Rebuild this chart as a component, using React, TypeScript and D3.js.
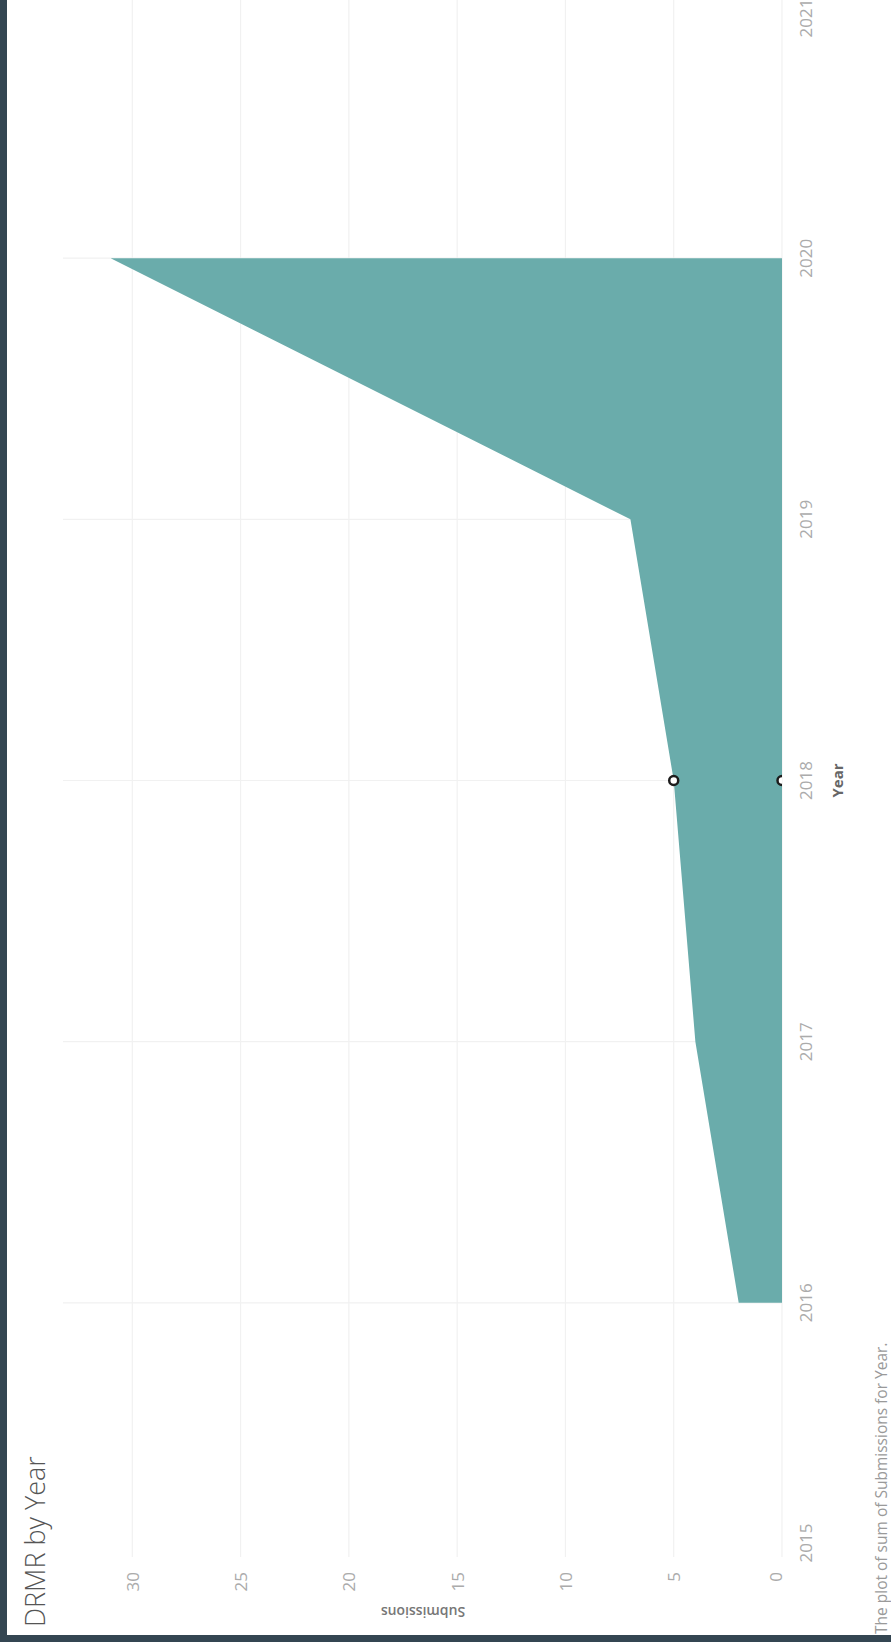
import React from "react";
import * as d3 from "d3";

const years = [2016, 2017, 2018, 2019, 2020];
const submissions = [2, 4, 5, 7, 31];
const yearTicks = [2015, 2016, 2017, 2018, 2019, 2020, 2021];
const valueTicks = [0, 5, 10, 15, 20, 25, 30];
const highlightYear = 2018;
const highlightValue = 5;

const OW = 891; // output width
const OH = 1642; // output height
// Original (landscape) chart dimensions before a 90° CCW rotation
const W = OH;
const H = OW;

export default function App() {
  const x = d3.scaleLinear().domain([2015, 2021]).range([78, 1645]);
  const y = d3.scaleLinear().domain([0, 33.2]).range([782, 63]);
  const data = years.map((yr, i) => ({ yr, v: submissions[i] }));
  const area = d3
    .area<{ yr: number; v: number }>()
    .x((d) => x(d.yr))
    .y0(() => y(0))
    .y1((d) => y(d.v))
    .curve(d3.curveLinear);

  const font = "'Open Sans', 'DejaVu Sans', sans-serif";
  const clampLabel = (u: number) => Math.max(99, Math.min(W - 18, u));

  return (
    <svg
      width={OW}
      height={OH}
      style={{ position: "absolute", left: 0, top: 0, background: "#fff" }}
    >
      <rect x={0} y={0} width={OW} height={OH} fill="#ffffff" />
      <defs>
        <clipPath id="pane">
          <rect x={0} y={0} width={W} height={y(0)} />
        </clipPath>
      </defs>
      <g transform={`translate(0,${OH}) rotate(-90)`}>
        {/* value gridlines */}
        {valueTicks.map((t) => (
          <line
            key={"vg" + t}
            x1={85}
            x2={W}
            y1={y(t)}
            y2={y(t)}
            stroke="#f1f1f1"
            strokeWidth={1.2}
          />
        ))}
        {/* year gridlines */}
        {yearTicks
          .filter((t) => t > 2015 && t < 2021)
          .map((t) => (
            <line
              key={"yg" + t}
              x1={x(t)}
              x2={x(t)}
              y1={63}
              y2={y(0)}
              stroke="#f1f1f1"
              strokeWidth={1.2}
            />
          ))}
        {/* area */}
        <path d={area(data) || ""} fill="#6aacab" />
        {/* highlight markers */}
        <g clipPath="url(#pane)">
          <circle
            cx={x(highlightYear)}
            cy={y(highlightValue)}
            r={4.5}
            fill="#ffffff"
            stroke="#1c1c1c"
            strokeWidth={2.5}
          />
          <circle
            cx={x(highlightYear)}
            cy={y(0)}
            r={4.5}
            fill="#ffffff"
            stroke="#1c1c1c"
            strokeWidth={2.5}
          />
        </g>
        {/* value tick labels */}
        {valueTicks.map((t) => (
          <text
            key={"vt" + t}
            x={70}
            y={Math.min(y(t), y(0) - 7)}
            textAnchor="end"
            dominantBaseline="central"
            fontFamily={font}
            fontSize={17}
            fill="#ababab"
          >
            {t}
          </text>
        ))}
        {/* year tick labels */}
        {yearTicks.map((t) => (
          <text
            key={"yt" + t}
            x={clampLabel(x(t))}
            y={812}
            textAnchor="middle"
            fontFamily={font}
            fontSize={17}
            fill="#ababab"
          >
            {t}
          </text>
        ))}
        {/* axis titles */}
        <text
          x={x(2018)}
          y={843}
          textAnchor="middle"
          fontFamily={font}
          fontSize={15}
          fontWeight={700}
          fill="#666666"
        >
          Year
        </text>
        <text
          transform={`translate(35,423) rotate(-90)`}
          textAnchor="middle"
          fontFamily={font}
          fontSize={14}
          fontWeight={600}
          fill="#777777"
        >
          Submissions
        </text>
        {/* title */}
        <text
          x={15}
          y={45}
          fontFamily={font}
          fontSize={27}
          fontWeight={300}
          fill="#555555"
        >
          DRMR by Year
        </text>
        {/* caption */}
        <text
          x={8}
          y={887}
          fontFamily={font}
          fontSize={15.5}
          fill="#9a9a9a"
        >
          The plot of sum of Submissions for Year.
        </text>
      </g>
      {/* dark frame edges */}
      <rect x={0} y={0} width={7} height={OH} fill="#344652" />
      <rect x={0} y={OH - 7} width={OW} height={7} fill="#344652" />
    </svg>
  );
}
